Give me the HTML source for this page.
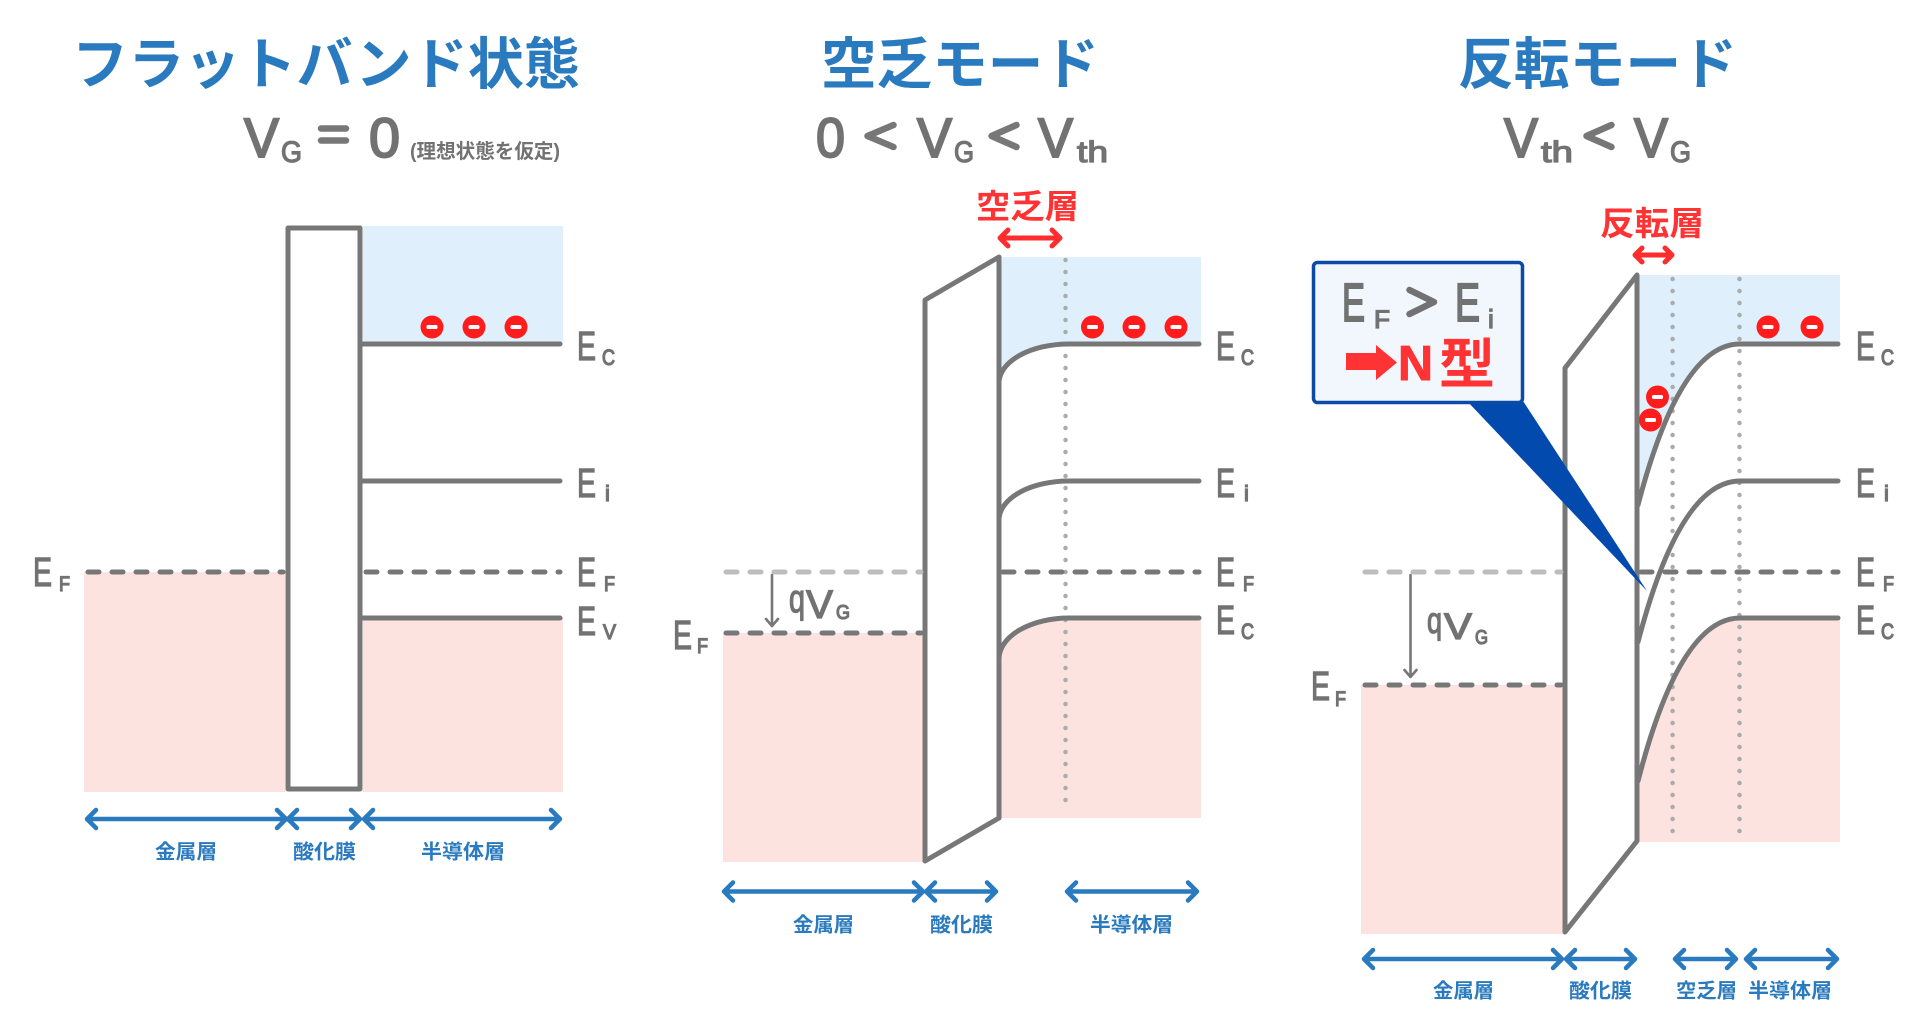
<!DOCTYPE html>
<html><head><meta charset="utf-8"><style>
html,body{margin:0;padding:0;background:#fff;}
svg{display:block;}
.t{font-family:"Liberation Sans","Noto Sans CJK JP",sans-serif;fill:#727272;stroke:#727272;stroke-width:1.3;}
.h{stroke-width:2;}
.jp{font-family:"Liberation Sans","Noto Sans CJK JP",sans-serif;font-weight:700;}
.ln{fill:none;stroke:#777;stroke-width:5;stroke-linecap:round;stroke-linejoin:round;}
.ds{fill:none;stroke:#777;stroke-width:5;stroke-linecap:round;stroke-dasharray:11 13;}
.dl{fill:none;stroke:#bdbdbd;stroke-width:5;stroke-linecap:round;stroke-dasharray:11 13;}
.dt{fill:none;stroke:#ababab;stroke-width:4.5;stroke-linecap:round;stroke-dasharray:0 12;}
.ba{fill:none;stroke:#2a7abf;stroke-width:4.5;stroke-linecap:round;stroke-linejoin:round;}
.ra{fill:none;stroke:#ff2d2d;stroke-width:5;stroke-linecap:round;stroke-linejoin:round;}
.bl{fill:#2a7abf;font-size:20px;}
</style></head><body>
<svg width="1920" height="1028" viewBox="0 0 1920 1028" xmlns="http://www.w3.org/2000/svg">
<defs>
<g id="el"><circle cx="0" cy="0" r="11.5" fill="#ff1c1c"/><rect x="-5.5" y="-2" width="11" height="4" rx="1.5" fill="#fff"/></g>
</defs>

<!-- ================= PANEL 1 ================= -->
<text class="jp" x="72" y="84" font-size="56" textLength="508" lengthAdjust="spacingAndGlyphs" fill="#2a7abf">フラットバンド状態</text>
<text class="t h" x="244" y="157" font-size="56" textLength="35" lengthAdjust="spacingAndGlyphs">V</text>
<text class="t" x="281" y="162" font-size="30" textLength="21" lengthAdjust="spacingAndGlyphs">G</text>
<path d="M321 128.5 H346 M321 140.5 H346" stroke="#777" stroke-width="6.5" stroke-linecap="round"/>
<text class="t h" x="369" y="157" font-size="56" textLength="31" lengthAdjust="spacingAndGlyphs">0</text>
<text class="jp" x="410" y="158" font-size="20" textLength="150" lengthAdjust="spacingAndGlyphs" fill="#727272">(理想状態を仮定)</text>

<rect x="84" y="572" width="201" height="220" fill="#fde3df"/>
<rect x="363" y="618" width="200" height="174" fill="#fde3df"/>
<rect x="363" y="226" width="200" height="118" fill="#dff0fc"/>
<rect x="288" y="228" width="72" height="561" fill="#fff" stroke="#777" stroke-width="5" stroke-linejoin="round"/>
<path class="ln" d="M360 344 H560 M360 481 H560 M360 618 H560"/>
<path class="ds" d="M88 572 H283 M366 572 H560"/>
<use href="#el" x="432" y="327"/><use href="#el" x="474" y="327"/><use href="#el" x="516" y="327"/>

<text class="t" x="33" y="586" font-size="41" textLength="19" lengthAdjust="spacingAndGlyphs">E</text>
<text class="t" x="59" y="591" font-size="21" textLength="11" lengthAdjust="spacingAndGlyphs">F</text>
<text class="t" x="577" y="360" font-size="41" textLength="19" lengthAdjust="spacingAndGlyphs">E</text>
<text class="t" x="602" y="365" font-size="22" textLength="13" lengthAdjust="spacingAndGlyphs">C</text>
<text class="t" x="577" y="497" font-size="41" textLength="19" lengthAdjust="spacingAndGlyphs">E</text>
<text class="t" x="605" y="501" font-size="22">i</text>
<text class="t" x="577" y="586" font-size="41" textLength="19" lengthAdjust="spacingAndGlyphs">E</text>
<text class="t" x="604" y="591" font-size="21" textLength="11" lengthAdjust="spacingAndGlyphs">F</text>
<text class="t" x="577" y="635" font-size="41" textLength="19" lengthAdjust="spacingAndGlyphs">E</text>
<text class="t" x="603" y="639" font-size="21" textLength="13" lengthAdjust="spacingAndGlyphs">V</text>

<path class="ba" d="M96 810 L87 819 L96 828 M87 819 H286 M277 810 L286 819 L277 828"/>
<path class="ba" d="M297 810 L288 819 L297 828 M288 819 H360 M351 810 L360 819 L351 828"/>
<path class="ba" d="M373 810 L364 819 L373 828 M364 819 H560 M551 810 L560 819 L551 828"/>
<text class="jp bl" x="155" y="858.5" textLength="62" lengthAdjust="spacingAndGlyphs">金属層</text>
<text class="jp bl" x="293" y="858.5" textLength="63" lengthAdjust="spacingAndGlyphs">酸化膜</text>
<text class="jp bl" x="421" y="858.5" textLength="84" lengthAdjust="spacingAndGlyphs">半導体層</text>

<!-- ================= PANEL 2 ================= -->
<text class="jp" x="821" y="84" font-size="56" textLength="278" lengthAdjust="spacingAndGlyphs" fill="#2a7abf">空乏モード</text>
<text class="t h" x="816" y="157" font-size="56" textLength="29" lengthAdjust="spacingAndGlyphs">0</text>
<polyline points="893.5,125 867.5,136 893.5,147" fill="none" stroke="#777" stroke-width="6.5" stroke-linecap="round" stroke-linejoin="round"/>
<text class="t h" x="917" y="157" font-size="56" textLength="35" lengthAdjust="spacingAndGlyphs">V</text>
<text class="t" x="954" y="162" font-size="30" textLength="20" lengthAdjust="spacingAndGlyphs">G</text>
<polyline points="1016.5,125 991.5,136 1016.5,147" fill="none" stroke="#777" stroke-width="6.5" stroke-linecap="round" stroke-linejoin="round"/>
<text class="t h" x="1038" y="157" font-size="56" textLength="35" lengthAdjust="spacingAndGlyphs">V</text>
<text class="t" x="1077" y="162" font-size="30" textLength="31" lengthAdjust="spacingAndGlyphs">th</text>

<text class="jp" x="976" y="218" font-size="33" textLength="103" lengthAdjust="spacingAndGlyphs" fill="#ff3333">空乏層</text>
<path class="ra" d="M1008 230 L1000 238 L1008 246 M1000 238 H1060 M1052 230 L1060 238 L1052 246"/>

<rect x="723" y="633" width="202" height="229" fill="#fde3df"/>
<path d="M1000 257 H1201 V344 H1069 A70 39 0 0 0 999 383 Z" fill="#dff0fc"/>
<path d="M999 659 A70 41 0 0 1 1069 618 H1201 V818 H999 Z" fill="#fde3df"/>
<polygon points="925,300 999,257 999,818 925,861" fill="#fff" stroke="#777" stroke-width="5" stroke-linejoin="round"/>
<path class="dt" d="M1065.5 260 V812"/>
<path class="dl" d="M726 572 H921"/>
<path class="ds" d="M726 633 H921 M1003 572 H1199"/>
<path class="ln" d="M999 383 A70 39 0 0 1 1069 344 H1199 M999 520 A70 39 0 0 1 1069 481 H1199 M999 659 A70 41 0 0 1 1069 618 H1199"/>
<path d="M772 575 V626 M766 619 L772 626 L778 619" fill="none" stroke="#777" stroke-width="2.6" stroke-linecap="round" stroke-linejoin="round"/>
<text class="t" x="789" y="612" font-size="40" textLength="16" lengthAdjust="spacingAndGlyphs">q</text>
<text class="t" x="806" y="618" font-size="40" textLength="27" lengthAdjust="spacingAndGlyphs">V</text>
<text class="t" x="836" y="619" font-size="20" textLength="14" lengthAdjust="spacingAndGlyphs">G</text>
<use href="#el" x="1092.5" y="327"/><use href="#el" x="1134" y="327"/><use href="#el" x="1176" y="327"/>

<text class="t" x="673" y="649" font-size="41" textLength="19" lengthAdjust="spacingAndGlyphs">E</text>
<text class="t" x="697" y="653" font-size="21" textLength="11" lengthAdjust="spacingAndGlyphs">F</text>
<text class="t" x="1216" y="360" font-size="41" textLength="19" lengthAdjust="spacingAndGlyphs">E</text>
<text class="t" x="1241" y="365" font-size="22" textLength="13" lengthAdjust="spacingAndGlyphs">C</text>
<text class="t" x="1216" y="497" font-size="41" textLength="19" lengthAdjust="spacingAndGlyphs">E</text>
<text class="t" x="1244" y="501" font-size="22">i</text>
<text class="t" x="1216" y="586" font-size="41" textLength="19" lengthAdjust="spacingAndGlyphs">E</text>
<text class="t" x="1243" y="591" font-size="21" textLength="11" lengthAdjust="spacingAndGlyphs">F</text>
<text class="t" x="1216" y="634" font-size="41" textLength="19" lengthAdjust="spacingAndGlyphs">E</text>
<text class="t" x="1241" y="639" font-size="22" textLength="13" lengthAdjust="spacingAndGlyphs">C</text>

<path class="ba" d="M733 882.5 L724 891.5 L733 900.5 M724 891.5 H923 M914 882.5 L923 891.5 L914 900.5"/>
<path class="ba" d="M935 882.5 L926 891.5 L935 900.5 M926 891.5 H996 M987 882.5 L996 891.5 L987 900.5"/>
<path class="ba" d="M1076 882.5 L1067 891.5 L1076 900.5 M1067 891.5 H1197 M1188 882.5 L1197 891.5 L1188 900.5"/>
<text class="jp bl" x="793" y="931.5" textLength="61" lengthAdjust="spacingAndGlyphs">金属層</text>
<text class="jp bl" x="930" y="931.5" textLength="63" lengthAdjust="spacingAndGlyphs">酸化膜</text>
<text class="jp bl" x="1090" y="931.5" textLength="83" lengthAdjust="spacingAndGlyphs">半導体層</text>

<!-- ================= PANEL 3 ================= -->
<text class="jp" x="1458" y="84" font-size="56" textLength="279" lengthAdjust="spacingAndGlyphs" fill="#2a7abf">反転モード</text>
<text class="t h" x="1504" y="157" font-size="56" textLength="34" lengthAdjust="spacingAndGlyphs">V</text>
<text class="t" x="1541" y="162" font-size="30" textLength="32" lengthAdjust="spacingAndGlyphs">th</text>
<polyline points="1611.5,125 1586.5,136 1611.5,147" fill="none" stroke="#777" stroke-width="6.5" stroke-linecap="round" stroke-linejoin="round"/>
<text class="t h" x="1634" y="157" font-size="56" textLength="34" lengthAdjust="spacingAndGlyphs">V</text>
<text class="t" x="1670" y="162" font-size="30" textLength="21" lengthAdjust="spacingAndGlyphs">G</text>

<text class="jp" x="1600" y="235" font-size="33" textLength="104" lengthAdjust="spacingAndGlyphs" fill="#ff3333">反転層</text>
<path class="ra" d="M1642 248 L1635 255 L1642 262 M1635 255 H1672 M1665 248 L1672 255 L1665 262"/>

<rect x="1361" y="685" width="204" height="249" fill="#fde3df"/>
<path d="M1639 275 H1840 V344 H1740 Q1680 344 1638 505 Z" fill="#dff0fc"/>
<path d="M1638 781 Q1680 618 1740 618 H1840 V842 H1638 Z" fill="#fde3df"/>
<polygon points="1565,368 1637,275 1637,841 1565,932" fill="#fff" stroke="#777" stroke-width="5" stroke-linejoin="round"/>
<path class="dt" d="M1672.6 279 V838 M1739.5 279 V838"/>
<path class="dl" d="M1365 572 H1561"/>
<path class="ds" d="M1365 685 H1561 M1641 572 H1838"/>
<path class="ln" d="M1638 505 Q1680 344 1740 344 H1838 M1638 642 Q1680 481 1740 481 H1838 M1638 781 Q1680 618 1740 618 H1838"/>
<path d="M1410.5 575 V677 M1404.5 670 L1410.5 677 L1416.5 670" fill="none" stroke="#777" stroke-width="2.6" stroke-linecap="round" stroke-linejoin="round"/>
<text class="t" x="1427" y="633" font-size="37" textLength="15" lengthAdjust="spacingAndGlyphs">q</text>
<text class="t" x="1444" y="639" font-size="37" textLength="28" lengthAdjust="spacingAndGlyphs">V</text>
<text class="t" x="1475" y="644" font-size="20" textLength="13" lengthAdjust="spacingAndGlyphs">G</text>
<use href="#el" x="1768" y="327"/><use href="#el" x="1812" y="327"/>
<use href="#el" x="1657.5" y="397"/><use href="#el" x="1650.5" y="420"/>

<text class="t" x="1311" y="700" font-size="41" textLength="19" lengthAdjust="spacingAndGlyphs">E</text>
<text class="t" x="1335" y="706" font-size="21" textLength="11" lengthAdjust="spacingAndGlyphs">F</text>
<text class="t" x="1856" y="360" font-size="41" textLength="19" lengthAdjust="spacingAndGlyphs">E</text>
<text class="t" x="1881" y="365" font-size="22" textLength="13" lengthAdjust="spacingAndGlyphs">C</text>
<text class="t" x="1856" y="497" font-size="41" textLength="19" lengthAdjust="spacingAndGlyphs">E</text>
<text class="t" x="1884" y="501" font-size="22">i</text>
<text class="t" x="1856" y="586" font-size="41" textLength="19" lengthAdjust="spacingAndGlyphs">E</text>
<text class="t" x="1883" y="591" font-size="21" textLength="11" lengthAdjust="spacingAndGlyphs">F</text>
<text class="t" x="1856" y="634" font-size="41" textLength="19" lengthAdjust="spacingAndGlyphs">E</text>
<text class="t" x="1881" y="639" font-size="22" textLength="13" lengthAdjust="spacingAndGlyphs">C</text>

<path class="ba" d="M1373 950 L1364 959 L1373 968 M1364 959 H1562 M1553 950 L1562 959 L1553 968"/>
<path class="ba" d="M1575 950 L1566 959 L1575 968 M1566 959 H1635 M1626 950 L1635 959 L1626 968"/>
<path class="ba" d="M1684 950 L1675 959 L1684 968 M1675 959 H1736 M1727 950 L1736 959 L1727 968"/>
<path class="ba" d="M1755 950 L1746 959 L1755 968 M1746 959 H1837 M1828 950 L1837 959 L1828 968"/>
<text class="jp bl" x="1433" y="997.5" textLength="61" lengthAdjust="spacingAndGlyphs">金属層</text>
<text class="jp bl" x="1569" y="997.5" textLength="63" lengthAdjust="spacingAndGlyphs">酸化膜</text>
<text class="jp bl" x="1676" y="997.5" textLength="61" lengthAdjust="spacingAndGlyphs">空乏層</text>
<text class="jp bl" x="1748" y="997.5" textLength="84" lengthAdjust="spacingAndGlyphs">半導体層</text>

<!-- callout -->
<polygon points="1467,401 1523,401 1647,591" fill="#024aad"/>
<rect x="1313.5" y="262.5" width="209" height="140" rx="4" fill="#f2f6fd" stroke="#0b4aa6" stroke-width="3.5"/>
<text class="t h" x="1342" y="321" font-size="54" textLength="23" lengthAdjust="spacingAndGlyphs">E</text>
<text class="t" x="1374" y="328" font-size="25" textLength="16" lengthAdjust="spacingAndGlyphs">F</text>
<polyline points="1409.5,290 1434,302 1409.5,314" fill="none" stroke="#727272" stroke-width="6.5" stroke-linecap="round" stroke-linejoin="round"/>
<text class="t h" x="1455" y="321" font-size="54" textLength="25" lengthAdjust="spacingAndGlyphs">E</text>
<text class="t" x="1488" y="328" font-size="26">i</text>
<polygon points="1346,353 1376,353 1376,345 1397,362.5 1376,380 1376,370 1346,370" fill="#ff3333"/>
<text class="jp" x="1398" y="380" font-size="49" textLength="35" lengthAdjust="spacingAndGlyphs" fill="#ff3333" stroke="#ff3333" stroke-width="1">N</text>
<text class="jp" x="1439" y="383" font-size="54" textLength="56" lengthAdjust="spacingAndGlyphs" fill="#ff3333">型</text>
</svg>
</body></html>
